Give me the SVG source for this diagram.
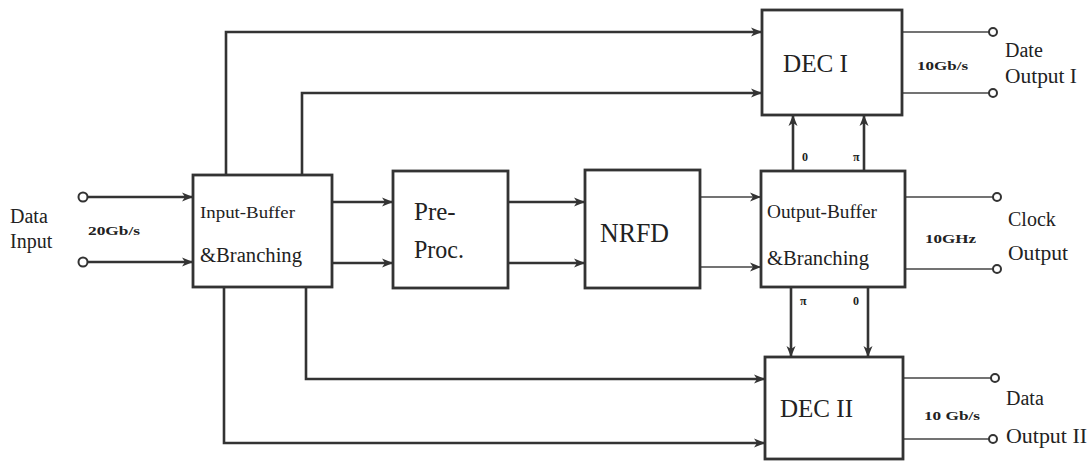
<svg xmlns="http://www.w3.org/2000/svg" width="1090" height="461" viewBox="0 0 1090 461">
<defs>
<marker id="ah" markerWidth="12" markerHeight="10" refX="11" refY="5" orient="auto" markerUnits="userSpaceOnUse">
<path d="M0,0.5 L11,5 L0,9.5 L3,5 Z" fill="#333"/>
</marker>
<style>
.box{fill:#fff;stroke:#333;stroke-width:2.8}
.w{fill:none;stroke:#333;stroke-width:2.6}
.t{fill:none;stroke:#444;stroke-width:1.6}
.pin{fill:#fff;stroke:#333;stroke-width:2}
.lb{font-family:"Liberation Serif",serif;fill:#222}
.b{font-family:"Liberation Serif",serif;font-weight:bold;fill:#222;font-size:12px}
</style>
</defs>
<rect width="1090" height="461" fill="#fff"/>
<g id="connectors">
<path class="w" d="M87,197 H193" marker-end="url(#ah)"/>
<path class="w" d="M87,262 H193" marker-end="url(#ah)"/>
<path class="w" d="M332,202 H393" marker-end="url(#ah)"/>
<path class="w" d="M332,263 H393" marker-end="url(#ah)"/>
<path class="w" d="M508,202 H585" marker-end="url(#ah)"/>
<path class="w" d="M508,263 H585" marker-end="url(#ah)"/>
<path class="t" d="M700,197 H761" marker-end="url(#ah)"/>
<path class="t" d="M700,267 H761" marker-end="url(#ah)"/>
<path class="w" d="M226,175 V32 H762" marker-end="url(#ah)"/>
<path class="w" d="M302,175 V93 H762" marker-end="url(#ah)"/>
<path class="w" d="M306,287 V379 H765" marker-end="url(#ah)"/>
<path class="w" d="M224,287 V443 H765" marker-end="url(#ah)"/>
<path class="w" d="M793,171 V115" marker-end="url(#ah)"/>
<path class="w" d="M864,171 V115" marker-end="url(#ah)"/>
<path class="w" d="M791,287 V357" marker-end="url(#ah)"/>
<path class="w" d="M868,287 V357" marker-end="url(#ah)"/>
<path class="t" d="M902,32 H989"/>
<path class="t" d="M902,93 H989"/>
<path class="t" d="M905,197 H993"/>
<path class="t" d="M905,269 H993"/>
<path class="t" d="M903,378 H991"/>
<path class="t" d="M903,439 H989"/>
</g>
<g id="pins">
<circle class="pin" cx="83" cy="197" r="4.5"/>
<circle class="pin" cx="83" cy="262" r="4.5"/>
<circle class="pin" cx="993" cy="32" r="4"/>
<circle class="pin" cx="993" cy="93" r="4"/>
<circle class="pin" cx="997" cy="197" r="4"/>
<circle class="pin" cx="997" cy="269" r="4"/>
<circle class="pin" cx="995" cy="378" r="4"/>
<circle class="pin" cx="993" cy="439" r="4"/>
</g>
<g id="input-label">
<text class="lb" x="10" y="223" font-size="20">Data</text>
<text class="lb" x="10" y="248" font-size="20">Input</text>
<text class="b" x="88" y="235" textLength="52" lengthAdjust="spacingAndGlyphs">20Gb/s</text>
</g>
<g id="input-buffer">
<rect class="box" x="193" y="175" width="139" height="112"/>
<text class="lb" x="200" y="218" font-size="17" textLength="95" lengthAdjust="spacingAndGlyphs">Input-Buffer</text>
<text class="lb" x="200" y="262" font-size="20" textLength="102" lengthAdjust="spacingAndGlyphs">&amp;Branching</text>
</g>
<g id="pre-proc">
<rect class="box" x="393" y="171" width="115" height="117"/>
<text class="lb" x="414" y="220" font-size="25">Pre-</text>
<text class="lb" x="414" y="258" font-size="25" textLength="50" lengthAdjust="spacingAndGlyphs">Proc.</text>
</g>
<g id="nrfd">
<rect class="box" x="585" y="170" width="115" height="118"/>
<text class="lb" x="600" y="242" font-size="27" textLength="69" lengthAdjust="spacingAndGlyphs">NRFD</text>
</g>
<g id="output-buffer">
<rect class="box" x="761" y="171" width="144" height="116"/>
<text class="lb" x="767" y="218" font-size="18" textLength="110" lengthAdjust="spacingAndGlyphs">Output-Buffer</text>
<text class="lb" x="767" y="265" font-size="20" textLength="102" lengthAdjust="spacingAndGlyphs">&amp;Branching</text>
<text class="b" x="802" y="161">0</text>
<text class="b" x="853" y="161">π</text>
<text class="b" x="800" y="305">π</text>
<text class="b" x="853" y="305">0</text>
</g>
<g id="dec1">
<rect class="box" x="762" y="10" width="140" height="105"/>
<text class="lb" x="783" y="72" font-size="26" textLength="65" lengthAdjust="spacingAndGlyphs">DEC I</text>
</g>
<g id="dec2">
<rect class="box" x="765" y="357" width="138" height="102"/>
<text class="lb" x="780" y="417" font-size="26" textLength="73" lengthAdjust="spacingAndGlyphs">DEC II</text>
</g>
<g id="output-labels">
<text class="b" x="917" y="70" textLength="51" lengthAdjust="spacingAndGlyphs">10Gb/s</text>
<text class="lb" x="1005" y="57" font-size="20">Date</text>
<text class="lb" x="1005" y="83" font-size="20" textLength="72" lengthAdjust="spacingAndGlyphs">Output I</text>
<text class="b" x="925" y="243" textLength="51" lengthAdjust="spacingAndGlyphs">10GHz</text>
<text class="lb" x="1008" y="226" font-size="20">Clock</text>
<text class="lb" x="1008" y="260" font-size="20" textLength="60" lengthAdjust="spacingAndGlyphs">Output</text>
<text class="b" x="924" y="420" textLength="56" lengthAdjust="spacingAndGlyphs">10 Gb/s</text>
<text class="lb" x="1006" y="405" font-size="20">Data</text>
<text class="lb" x="1006" y="443" font-size="20" textLength="81" lengthAdjust="spacingAndGlyphs">Output II</text>
</g>
</svg>
